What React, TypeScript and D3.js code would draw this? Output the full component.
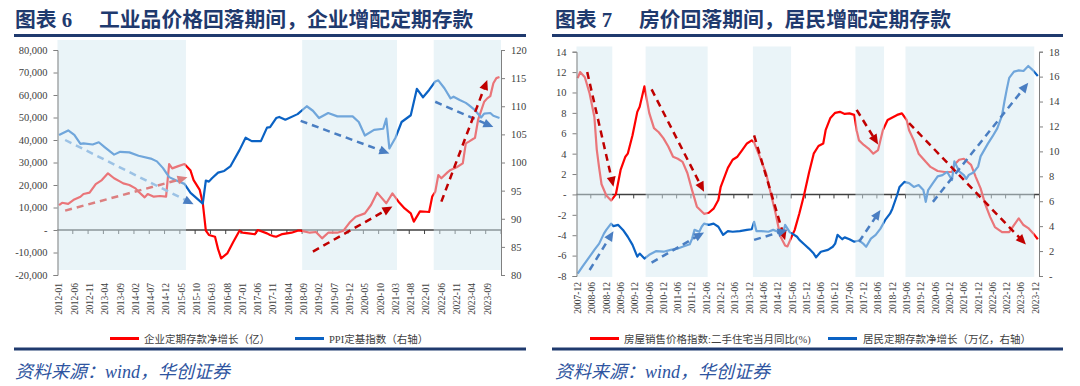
import * as d3 from 'd3';
import React, { useEffect, useRef } from 'react';

type Pt = [string, number];

// month labels "YYYY-MM" between two months, both included
const monthRange = (start: string, end: string): string[] => {
  const parse = d3.timeParse('%Y-%m');
  const fmt = d3.timeFormat('%Y-%m');
  const s = parse(start) as Date;
  const e = parse(end) as Date;
  return d3.timeMonth.range(s, d3.timeMonth.offset(e, 1)).map(fmt);
};

// ---------- chart 6 data ----------
const corpMonths = monthRange('2012-01', '2024-01');

// 企业定期存款净增长（亿）
const corpTimeDeposit: Pt[] = [
  ['2012-01', 11100], ['2012-02', 12100], ['2012-04', 11600], ['2012-06', 13600], ['2012-08', 14800],
  ['2012-09', 16000], ['2012-11', 16600], ['2013-01', 20400], ['2013-03', 22200], ['2013-05', 25200],
  ['2013-07', 23000], ['2013-09', 21500], ['2013-10', 20700], ['2013-12', 20000], ['2014-02', 18500],
  ['2014-03', 17000], ['2014-05', 14500], ['2014-06', 16000], ['2014-08', 14800], ['2014-10', 15100],
  ['2014-12', 14800], ['2015-01', 29300], ['2015-02', 27400], ['2015-04', 28400], ['2015-06', 29300],
  ['2015-08', 26400], ['2015-09', 22200], ['2015-11', 17800], ['2015-12', 12000], ['2016-01', -300],
  ['2016-02', -2200], ['2016-04', -3000], ['2016-05', -8500], ['2016-06', -12600], ['2016-08', -10400],
  ['2016-10', -5200], ['2016-12', -300], ['2017-01', -1200], ['2017-03', -1500], ['2017-05', -1900],
  ['2017-06', 0], ['2017-09', -1500], ['2017-10', -2200], ['2017-11', -2700], ['2017-12', -3000],
  ['2018-02', -1800], ['2018-05', -1200], ['2018-07', -300], ['2018-08', -300], ['2018-11', -1200],
  ['2019-01', -900], ['2019-03', -3700], ['2019-05', -1200], ['2019-08', -1200], ['2019-10', -300],
  ['2019-12', 3300], ['2020-02', 5900], ['2020-05', 7400], ['2020-07', 11100], ['2020-09', 16600],
  ['2020-12', 11900], ['2021-02', 16300], ['2021-04', 12600], ['2021-06', 9600], ['2021-08', 7400],
  ['2021-09', 3700], ['2021-11', 8300], ['2022-01', 8100], ['2022-02', 8000], ['2022-03', 14800],
  ['2022-04', 17000], ['2022-05', 24400], ['2022-06', 23000], ['2022-08', 25600], ['2022-09', 26700],
  ['2022-11', 27900], ['2023-01', 29600], ['2023-02', 38500], ['2023-03', 39300], ['2023-05', 41000],
  ['2023-06', 48900], ['2023-08', 57000], ['2023-09', 58500], ['2023-10', 59500], ['2023-11', 65200],
  ['2023-12', 67500], ['2024-01', 68000],
];

// PPI定基指数（右轴）
const ppiIndex: Pt[] = [
  ['2012-01', 104.9], ['2012-04', 105.7], ['2012-06', 104.9], ['2012-08', 103.3], ['2012-09', 103.4],
  ['2012-12', 103.2], ['2013-02', 103.6], ['2013-04', 102.7], ['2013-07', 101.4], ['2013-09', 101.9],
  ['2013-12', 101.8], ['2014-03', 101.2], ['2014-07', 100.7], ['2014-09', 100.2], ['2014-11', 99.0],
  ['2015-01', 97.4], ['2015-03', 96.9], ['2015-06', 96.2], ['2015-08', 94.6], ['2015-12', 92.7],
  ['2016-01', 96.8], ['2016-02', 96.6], ['2016-03', 97.2], ['2016-05', 98.2], ['2016-07', 98.5],
  ['2016-09', 99.3], ['2016-12', 102.2], ['2017-02', 104.4], ['2017-04', 103.8], ['2017-07', 103.8],
  ['2017-09', 106.2], ['2017-10', 106.3], ['2017-12', 107.9], ['2018-01', 108.1], ['2018-03', 107.6],
  ['2018-07', 108.6], ['2018-10', 110.0], ['2018-12', 109.2], ['2019-02', 107.9], ['2019-05', 108.8],
  ['2019-08', 108.2], ['2020-01', 108.2], ['2020-03', 107.2], ['2020-05', 104.8], ['2020-08', 105.8],
  ['2020-11', 106.0], ['2020-12', 107.8], ['2021-01', 102.5], ['2021-03', 104.4], ['2021-05', 107.2],
  ['2021-08', 108.4], ['2021-10', 113.1], ['2021-12', 111.6], ['2022-02', 112.9], ['2022-04', 114.4],
  ['2022-05', 114.6], ['2022-07', 113.2], ['2022-09', 111.4], ['2022-10', 111.7], ['2022-12', 111.1],
  ['2023-02', 110.6], ['2023-03', 110.2], ['2023-05', 109.3], ['2023-07', 108.0], ['2023-08', 108.7],
  ['2023-10', 108.8], ['2023-11', 108.3], ['2024-01', 107.9],
];

const corpShades: [string, string][] = [
  ['2012-01', '2015-06'], ['2018-09', '2021-03'], ['2022-04', '2024-01'],
];

const corpLeftTicks = d3.range(-20000, 80001, 10000);
const corpRightTicks = d3.range(80, 121, 5);

// ---------- chart 7 data ----------
const houseMonths = monthRange('2007-12', '2024-01');

// 房屋销售价格指数:二手住宅当月同比(%)
const housePriceYoY: Pt[] = [
  ['2007-12', 11.4], ['2008-01', 12.0], ['2008-03', 11.5], ['2008-05', 9.9], ['2008-07', 7.6],
  ['2008-08', 4.4], ['2008-09', 2.6], ['2008-10', 1.0], ['2008-12', -0.1], ['2009-02', -0.6],
  ['2009-04', 0], ['2009-06', 2.4], ['2009-08', 3.7], ['2009-09', 4.0], ['2009-11', 5.8],
  ['2010-01', 8.1], ['2010-02', 8.6], ['2010-04', 10.6], ['2010-06', 8.0], ['2010-08', 6.5],
  ['2010-10', 6.1], ['2010-12', 5.5], ['2011-02', 4.7], ['2011-04', 3.7], ['2011-06', 3.5],
  ['2011-08', 3.2], ['2011-10', 2.1], ['2011-12', 0.4], ['2012-02', -1.2], ['2012-05', -1.9],
  ['2012-07', -1.8], ['2012-09', -1.4], ['2012-11', -0.55], ['2012-12', 0.75], ['2013-03', 2.6],
  ['2013-05', 3.4], ['2013-07', 3.7], ['2013-09', 4.35], ['2013-11', 5.0], ['2014-01', 5.3],
  ['2014-02', 5.1], ['2014-04', 3.9], ['2014-07', 2.1], ['2014-09', 0.1], ['2014-11', -1.85],
  ['2015-01', -4.1], ['2015-03', -5.0], ['2015-04', -5.1], ['2015-06', -4.0], ['2015-07', -3.5],
  ['2015-09', -1.85], ['2015-11', 0], ['2016-01', 2.1], ['2016-03', 4.0], ['2016-05', 4.75],
  ['2016-07', 5.0], ['2016-08', 6.3], ['2016-10', 7.5], ['2016-12', 8.0], ['2017-02', 8.1],
  ['2017-04', 7.9], ['2017-06', 7.95], ['2017-08', 7.8], ['2017-09', 6.3], ['2017-10', 5.3],
  ['2017-12', 4.85], ['2018-02', 4.5], ['2018-04', 4.0], ['2018-06', 4.35], ['2018-08', 6.3],
  ['2018-10', 7.3], ['2018-12', 7.55], ['2019-02', 7.8], ['2019-04', 7.95], ['2019-06', 7.3],
  ['2019-07', 6.3], ['2019-09', 5.3], ['2019-11', 4.0], ['2020-02', 3.2], ['2020-04', 2.7],
  ['2020-07', 2.3], ['2020-10', 2.2], ['2021-01', 2.2], ['2021-02', 2.9], ['2021-04', 3.4],
  ['2021-06', 3.5], ['2021-09', 2.9], ['2021-11', 1.7], ['2022-01', 0.6], ['2022-03', -1.0],
  ['2022-05', -2.2], ['2022-07', -3.2], ['2022-10', -3.7], ['2023-01', -3.7], ['2023-03', -3.0],
  ['2023-05', -2.35], ['2023-07', -3.0], ['2023-09', -3.3], ['2023-11', -3.8], ['2024-01', -4.4],
];

// 居民定期存款净增长（万亿，右轴）
const householdTimeDeposit: Pt[] = [
  ['2007-12', 0.2], ['2008-02', 0.75], ['2008-05', 1.55], ['2008-07', 2.1], ['2008-09', 2.6],
  ['2008-11', 3.4], ['2008-12', 3.7], ['2009-02', 4.2], ['2009-03', 4.0], ['2009-05', 4.1],
  ['2009-07', 3.7], ['2009-09', 3.15], ['2009-11', 2.5], ['2010-01', 1.55], ['2010-02', 1.8],
  ['2010-04', 1.4], ['2010-06', 1.7], ['2010-09', 2.0], ['2010-12', 1.95], ['2011-03', 2.1],
  ['2011-06', 2.2], ['2011-08', 2.35], ['2011-11', 2.55], ['2011-12', 3.0], ['2012-01', 3.7],
  ['2012-03', 3.55], ['2012-04', 3.95], ['2012-05', 4.2], ['2012-07', 4.1], ['2012-09', 4.2],
  ['2012-11', 3.95], ['2013-01', 3.3], ['2013-03', 3.6], ['2013-05', 3.55], ['2013-08', 3.6],
  ['2013-11', 3.7], ['2014-01', 3.75], ['2014-02', 4.35], ['2014-03', 3.6], ['2014-05', 3.6],
  ['2014-08', 3.55], ['2014-10', 3.7], ['2014-12', 3.55], ['2015-02', 3.3], ['2015-03', 4.1],
  ['2015-05', 3.5], ['2015-06', 3.4], ['2015-08', 3.15], ['2015-09', 2.9], ['2015-11', 2.55],
  ['2016-01', 2.2], ['2016-03', 1.8], ['2016-04', 1.5], ['2016-06', 1.95], ['2016-09', 2.1],
  ['2016-11', 2.35], ['2016-12', 2.6], ['2017-01', 3.3], ['2017-03', 2.95], ['2017-04', 3.1],
  ['2017-06', 2.95], ['2017-08', 2.75], ['2017-10', 2.85], ['2017-12', 2.55], ['2018-01', 2.35],
  ['2018-03', 3.0], ['2018-05', 3.3], ['2018-07', 3.8], ['2018-09', 4.5], ['2018-11', 5.0],
  ['2018-12', 5.4], ['2019-02', 6.5], ['2019-03', 7.15], ['2019-05', 7.55], ['2019-07', 7.45],
  ['2019-09', 7.15], ['2019-11', 7.3], ['2020-01', 6.9], ['2020-02', 5.95], ['2020-03', 6.9],
  ['2020-05', 7.45], ['2020-07', 8.0], ['2020-09', 8.1], ['2020-11', 8.35], ['2021-01', 7.7],
  ['2021-02', 9.2], ['2021-04', 8.4], ['2021-06', 8.1], ['2021-07', 7.8], ['2021-08', 8.1],
  ['2021-10', 8.3], ['2021-12', 8.8], ['2022-01', 9.6], ['2022-04', 10.6], ['2022-06', 11.2],
  ['2022-08', 11.85], ['2022-10', 12.9], ['2022-11', 14.0], ['2022-12', 15.0], ['2023-01', 15.9],
  ['2023-03', 16.4], ['2023-05', 16.5], ['2023-07', 16.45], ['2023-09', 16.85], ['2023-11', 16.5],
  ['2024-01', 16.05],
];

const houseShades: [string, string][] = [
  ['2007-12', '2009-02'], ['2010-05', '2012-06'], ['2014-02', '2015-05'],
  ['2017-09', '2018-08'], ['2019-06', '2023-11'],
];

const houseLeftTicks = d3.range(-8, 15, 2);
const houseRightTicks = d3.range(0, 19, 2);

type Arrow = { from: Pt; to: Pt; axis: 'left' | 'right'; dash: string; head: string };

const RED = '#FF0000';
const BLUE = '#0A62C4';
const DARK_RED = '#C00000';
const MID_BLUE = '#4A7EC2';

const corpArrows: Arrow[] = [
  { from: ['2012-03', 8600], to: ['2015-07', 23400], axis: 'left', dash: '#DC7F80', head: '#DC7F80' },
  { from: ['2012-03', 104], to: ['2015-09', 92.6], axis: 'right', dash: '#9CC2E5', head: MID_BLUE },
  { from: ['2018-08', 107.4], to: ['2021-01', 101.6], axis: 'right', dash: MID_BLUE, head: MID_BLUE },
  { from: ['2018-12', -9600], to: ['2021-02', 10400], axis: 'left', dash: DARK_RED, head: DARK_RED },
  { from: ['2022-04', 110.8], to: ['2023-11', 106.3], axis: 'right', dash: MID_BLUE, head: MID_BLUE },
  { from: ['2022-06', 12600], to: ['2023-09', 66700], axis: 'left', dash: DARK_RED, head: DARK_RED },
];

const houseArrows: Arrow[] = [
  { from: ['2008-04', 12.0], to: ['2009-03', 0.75], axis: 'left', dash: DARK_RED, head: DARK_RED },
  { from: ['2010-07', 10.3], to: ['2012-05', 0.26], axis: 'left', dash: DARK_RED, head: DARK_RED },
  { from: ['2014-02', 5.8], to: ['2015-03', -4.5], axis: 'left', dash: DARK_RED, head: DARK_RED },
  { from: ['2017-09', 8.3], to: ['2018-06', 4.9], axis: 'left', dash: DARK_RED, head: DARK_RED },
  { from: ['2019-07', 7.0], to: ['2023-08', -4.9], axis: 'left', dash: DARK_RED, head: DARK_RED },
  { from: ['2008-05', 0.48], to: ['2009-03', 3.6], axis: 'right', dash: MID_BLUE, head: MID_BLUE },
  { from: ['2010-07', 1.07], to: ['2012-05', 3.5], axis: 'right', dash: MID_BLUE, head: MID_BLUE },
  { from: ['2014-02', 2.9], to: ['2015-04', 3.7], axis: 'right', dash: MID_BLUE, head: MID_BLUE },
  { from: ['2017-10', 2.75], to: ['2018-07', 5.3], axis: 'right', dash: MID_BLUE, head: MID_BLUE },
  { from: ['2020-05', 5.95], to: ['2023-09', 15.5], axis: 'right', dash: MID_BLUE, head: MID_BLUE },
];

const SERIF = "'Liberation Serif', 'Noto Sans CJK SC', serif";
const NAVY = '#1F3A6E';

type Panel = {
  left: number; right: number; top: number; bottom: number;
  months: string[];
  leftDomain: [number, number]; rightDomain: [number, number];
  leftTicks: number[]; rightTicks: number[];
  leftFormat: (v: number) => string; rightFormat: (v: number) => string;
  tickEvery: number; labelY: number;
  shadeTop: number; shadeBottom: number; shades: [string, string][];
  series: { data: Pt[]; axis: 'left' | 'right'; color: string }[];
  arrows: Arrow[];
  titleNum: string; titleX: number; title: string; titleMainX: number;
  ruleX0: number; ruleX1: number;
  legend: { label: string; color: string; lineX: number; textX: number }[];
};

const dash0 = (s: string) => (s === '0' ? '-' : s);
const thousands = (v: number) => dash0(d3.format(',')(v).replace('\u2212', '-'));
const plain = (v: number) => dash0(String(v));

const panels: Panel[] = [
  {
    left: 57.5, right: 501, top: 50, bottom: 275,
    months: corpMonths,
    leftDomain: [-20000, 80000], rightDomain: [80, 120],
    leftTicks: corpLeftTicks, rightTicks: corpRightTicks,
    leftFormat: thousands, rightFormat: plain,
    tickEvery: 5, labelY: 283,
    shadeTop: 40, shadeBottom: 270, shades: corpShades,
    series: [
      { data: corpTimeDeposit, axis: 'left', color: RED },
      { data: ppiIndex, axis: 'right', color: BLUE },
    ],
    arrows: corpArrows,
    titleNum: '图表 6', titleX: 15, title: '工业品价格回落期间，企业增配定期存款', titleMainX: 99,
    ruleX0: 14, ruleX1: 526,
    legend: [
      { label: '企业定期存款净增长（亿）', color: RED, lineX: 110, textX: 144 },
      { label: 'PPI定基指数（右轴）', color: BLUE, lineX: 295, textX: 329 },
    ],
  },
  {
    left: 576.5, right: 1039, top: 51.7, bottom: 276,
    months: houseMonths,
    leftDomain: [-8, 14], rightDomain: [0, 18],
    leftTicks: houseLeftTicks, rightTicks: houseRightTicks,
    leftFormat: plain, rightFormat: plain,
    tickEvery: 6, labelY: 282,
    shadeTop: 46.5, shadeBottom: 277, shades: houseShades,
    series: [
      { data: housePriceYoY, axis: 'left', color: RED },
      { data: householdTimeDeposit, axis: 'right', color: BLUE },
    ],
    arrows: houseArrows,
    titleNum: '图表 7', titleX: 555, title: '房价回落期间，居民增配定期存款', titleMainX: 639,
    ruleX0: 552, ruleX1: 1063,
    legend: [
      { label: '房屋销售价格指数:二手住宅当月同比(%)', color: RED, lineX: 590, textX: 624 },
      { label: '居民定期存款净增长（万亿，右轴）', color: BLUE, lineX: 828, textX: 863 },
    ],
  },
];

function drawPanel(g: d3.Selection<SVGGElement, unknown, null, undefined>, c: Panel) {
  const x = d3.scaleBand<string>().domain(c.months).range([c.left, c.right]);
  const step = x.step();
  const cx = (m: string) => (x(m) ?? 0) + step / 2;
  const yL = d3.scaleLinear().domain(c.leftDomain).range([c.bottom, c.top]);
  const yR = d3.scaleLinear().domain(c.rightDomain).range([c.bottom, c.top]);
  const yOf = (a: 'left' | 'right') => (a === 'left' ? yL : yR);

  // zero line with category ticks
  const y0 = yL(0);
  g.append('line')
    .attr('x1', c.left).attr('x2', c.right)
    .attr('y1', y0).attr('y2', y0)
    .attr('stroke', '#404040').attr('stroke-width', 1.5);
  g.append('g')
    .selectAll('line')
    .data(d3.range(c.tickEvery, c.months.length + 1, c.tickEvery))
    .join('line')
    .attr('x1', i => c.left + i * step).attr('x2', i => c.left + i * step)
    .attr('y1', y0).attr('y2', y0 + 4)
    .attr('stroke', '#404040').attr('stroke-width', 1);

  // series
  c.series.forEach(s => {
    const y = yOf(s.axis);
    const line = d3.line<Pt>().x(d => cx(d[0])).y(d => y(d[1]));
    g.append('path')
      .attr('d', line(s.data))
      .attr('fill', 'none')
      .attr('stroke', s.color)
      .attr('stroke-width', 2.2)
      .attr('stroke-linejoin', 'round');
  });

  // shaded periods (translucent, so the lines below fade)
  g.append('g')
    .selectAll('rect')
    .data(c.shades)
    .join('rect')
    .attr('x', d => x(d[0]) ?? 0)
    .attr('width', d => (x(d[1]) ?? 0) + step - (x(d[0]) ?? 0))
    .attr('y', c.shadeTop)
    .attr('height', c.shadeBottom - c.shadeTop)
    .attr('fill', '#D5E9F1')
    .attr('opacity', 0.5);

  // dashed arrows
  c.arrows.forEach(a => {
    const y = yOf(a.axis);
    const x0 = cx(a.from[0]), y0a = y(a.from[1]);
    const x1 = cx(a.to[0]), y1 = y(a.to[1]);
    const len = Math.hypot(x1 - x0, y1 - y0a);
    const ux = (x1 - x0) / len, uy = (y1 - y0a) / len;
    const L = 10, W = 4.5;
    g.append('line')
      .attr('x1', x0).attr('y1', y0a)
      .attr('x2', x1 - ux * L * 0.8).attr('y2', y1 - uy * L * 0.8)
      .attr('stroke', a.dash).attr('stroke-width', 2.5)
      .attr('stroke-dasharray', '7,5');
    const bx = x1 - ux * L, by = y1 - uy * L;
    g.append('path')
      .attr('d', `M${x1},${y1}L${bx - uy * W},${by + ux * W}L${bx + uy * W},${by - ux * W}Z`)
      .attr('fill', a.head);
  });

  // y axes
  const styleAxis = (s: d3.Selection<SVGGElement, unknown, null, undefined>) => {
    s.attr('font-family', SERIF).attr('font-size', 10.5);
    s.select('.domain').attr('stroke', '#808080');
    s.selectAll('.tick line').attr('stroke', '#808080');
    s.selectAll('.tick text').attr('fill', '#404040');
  };
  g.append('g')
    .attr('transform', `translate(${c.left},0)`)
    .call(d3.axisLeft(yL).tickValues(c.leftTicks).tickSize(4).tickPadding(6).tickFormat(v => c.leftFormat(+v)))
    .call(styleAxis);
  g.append('g')
    .attr('transform', `translate(${c.right},0)`)
    .call(d3.axisRight(yR).tickValues(c.rightTicks).tickSize(4).tickPadding(6).tickFormat(v => c.rightFormat(+v)))
    .call(styleAxis);

  // category labels
  g.append('g')
    .selectAll('text')
    .data(c.months.filter((_, i) => i % c.tickEvery === 0))
    .join('text')
    .attr('transform', m => `translate(${cx(m)},${c.labelY}) rotate(-90)`)
    .attr('text-anchor', 'end')
    .attr('dy', '0.35em')
    .attr('font-family', SERIF)
    .attr('font-size', 9.5)
    .attr('fill', '#404040')
    .text(m => m);

  // legend
  const lg = g.append('g');
  c.legend.forEach(l => {
    lg.append('line')
      .attr('x1', l.lineX).attr('x2', l.lineX + 29)
      .attr('y1', 338.5).attr('y2', 338.5)
      .attr('stroke', l.color).attr('stroke-width', 3);
    lg.append('text')
      .attr('x', l.textX).attr('y', 342.5)
      .attr('font-family', SERIF).attr('font-size', 10.5)
      .attr('fill', '#404040')
      .text(l.label);
  });

  // title, rules, source
  g.append('text')
    .attr('x', c.titleX).attr('y', 27)
    .attr('font-family', SERIF).attr('font-size', 20.8).attr('font-weight', 'bold')
    .attr('fill', NAVY)
    .text(c.titleNum);
  g.append('text')
    .attr('x', c.titleMainX).attr('y', 27)
    .attr('font-family', SERIF).attr('font-size', 20.8).attr('font-weight', 'bold')
    .attr('fill', NAVY)
    .text(c.title);
  [35.5, 349].forEach(ry => {
    g.append('rect')
      .attr('x', c.ruleX0).attr('y', ry - 1.5)
      .attr('width', c.ruleX1 - c.ruleX0).attr('height', 3)
      .attr('fill', NAVY);
  });
  g.append('text')
    .attr('x', c.titleX).attr('y', 378)
    .attr('font-family', SERIF).attr('font-size', 18).attr('font-style', 'italic')
    .attr('fill', '#2E54A0')
    .text('资料来源：wind，华创证券');
}

const App: React.FC = () => {
  const ref = useRef<SVGSVGElement>(null);

  useEffect(() => {
    const svg = d3.select(ref.current);
    svg.selectAll('*').remove();
    panels.forEach(p => drawPanel(svg.append('g'), p));
  }, []);

  return (
    <svg
      ref={ref}
      width={1080}
      height={386}
      style={{ position: 'absolute', left: 0, top: 0, background: '#fff' }}
    />
  );
};

export default App;
